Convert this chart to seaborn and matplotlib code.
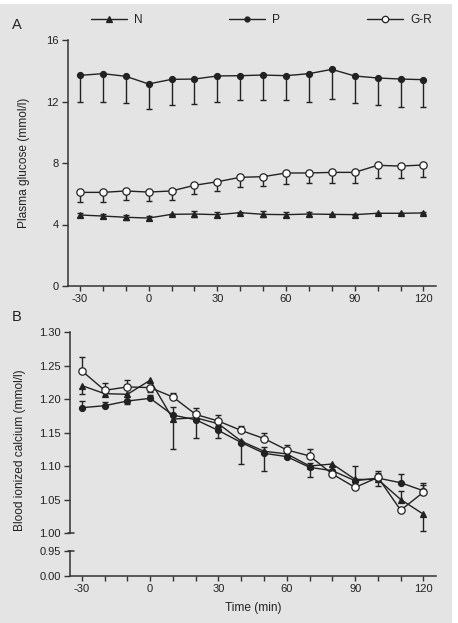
import numpy as np
import matplotlib
matplotlib.use("Agg")
import matplotlib.pyplot as plt
from matplotlib.patches import Rectangle
from matplotlib.lines import Line2D
import seaborn as sns
import pandas as pd

# ---- data ----
time = [-30, -20, -10, 0, 10, 20, 30, 40, 50, 60, 70, 80, 90, 100, 110, 120]

# Panel A: plasma glucose (mmol/l)
glu_N = [4.62, 4.55, 4.47, 4.42, 4.66, 4.68, 4.64, 4.77, 4.66, 4.64, 4.68, 4.66, 4.64, 4.73, 4.73, 4.75]
glu_N_lo = [0.15, 0.12, 0.18, 0.15, 0.05, 0.20, 0.17, 0.05, 0.20, 0.17, 0.13, 0.05, 0.05, 0.05, 0.05, 0.05]
glu_N_hi = [0.15, 0.12, 0.18, 0.15, 0.05, 0.20, 0.17, 0.05, 0.20, 0.17, 0.13, 0.05, 0.05, 0.05, 0.05, 0.05]
glu_P = [13.70, 13.81, 13.64, 13.14, 13.44, 13.46, 13.66, 13.68, 13.72, 13.68, 13.81, 14.09, 13.66, 13.53, 13.46, 13.42]
glu_P_lo = [1.71, 1.84, 1.76, 1.63, 1.67, 1.64, 1.67, 1.60, 1.64, 1.56, 1.82, 1.91, 1.76, 1.78, 1.82, 1.80]
glu_P_hi = [0.0] * 16
glu_GR = [6.09, 6.09, 6.18, 6.11, 6.18, 6.55, 6.78, 7.07, 7.11, 7.35, 7.35, 7.39, 7.39, 7.85, 7.80, 7.87]
glu_GR_lo = [0.61, 0.61, 0.61, 0.56, 0.59, 0.55, 0.58, 0.61, 0.61, 0.72, 0.67, 0.67, 0.67, 0.83, 0.78, 0.78]
glu_GR_hi = [0.0] * 16

# Panel B: blood ionized calcium (mmol/l)
ca_N = [1.220, 1.208, 1.207, 1.228, 1.170, 1.172, 1.163, 1.137, 1.122, 1.118, 1.100, 1.103, 1.080, 1.080, 1.050, 1.028]
ca_N_lo = [0.012, 0, 0, 0, 0.045, 0, 0, 0.034, 0, 0, 0, 0, 0, 0, 0, 0.025]
ca_N_hi = [0, 0, 0, 0, 0, 0, 0, 0, 0.006, 0, 0, 0, 0.020, 0.010, 0.013, 0]
ca_P = [1.187, 1.190, 1.197, 1.201, 1.176, 1.169, 1.153, 1.135, 1.119, 1.114, 1.098, 1.093, 1.078, 1.082, 1.075, 1.063]
ca_P_lo = [0, 0, 0.005, 0, 0, 0.027, 0.011, 0, 0.026, 0, 0.014, 0, 0, 0.012, 0, 0]
ca_P_hi = [0.010, 0.006, 0, 0.005, 0.012, 0, 0, 0, 0, 0, 0.007, 0, 0, 0, 0.013, 0.008]
ca_GR = [1.242, 1.213, 1.218, 1.217, 1.203, 1.177, 1.167, 1.153, 1.141, 1.124, 1.115, 1.088, 1.068, 1.083, 1.034, 1.061]
ca_GR_lo = [0, 0, 0, 0.006, 0, 0, 0, 0, 0, 0, 0, 0, 0, 0, 0, 0]
ca_GR_hi = [0.020, 0.011, 0.010, 0, 0.006, 0.009, 0.009, 0.006, 0.009, 0.008, 0.010, 0, 0, 0.009, 0, 0.013]

group_names = ["N", "P", "G-R"]
xticks = [-30, 0, 30, 60, 90, 120]

# ---- style ----
sns.set_theme(style="ticks")
plt.rcParams['font.family'] = ['Liberation Sans', 'DejaVu Sans']
BG = "#e4e4e4"
INK = "#222222"
SP = "#333333"
FS = 8
LFS = 8.6

fig = plt.figure(figsize=(4.58, 6.23), dpi=100)
fig.patch.set_facecolor("white")
fig.patches.append(Rectangle((0, 0), 452 / 458, 1 - 4 / 623, transform=fig.transFigure,
                             facecolor=BG, edgecolor="none", zorder=-10))

W, H = 458, 623
def rect(l, t, r, b):
    return [l / W, 1 - b / H, (r - l) / W, (b - t) / H]

axA = fig.add_axes(rect(68, 40, 436, 286))
axB = fig.add_axes(rect(70, 332, 436, 533))
axB2 = fig.add_axes(rect(70, 551, 436, 576))
for ax in (axA, axB, axB2):
    ax.set_facecolor("none")

styles = {
    "N": dict(marker="^", ms=4.6, mfc=INK),
    "P": dict(marker="o", ms=4.3, mfc=INK),
    "G-R": dict(marker="o", ms=5.3, mfc="white"),
}

def draw(ax, name, y, lo, hi):
    y = np.asarray(y, float); lo = np.asarray(lo, float); hi = np.asarray(hi, float)
    x = np.asarray(time, float)
    ax.vlines(x, y - lo, y + hi, color=INK, lw=1.0, zorder=2)
    m = lo > 0
    ax.plot(x[m], (y - lo)[m], ls="none", marker="_", ms=5, mew=1.0, color=INK, zorder=2)
    m = hi > 0
    ax.plot(x[m], (y + hi)[m], ls="none", marker="_", ms=5, mew=1.0, color=INK, zorder=2)
    df = pd.DataFrame({"t": x, "v": y})
    st = styles[name]
    sns.lineplot(data=df, x="t", y="v", ax=ax, color=INK, lw=1.0, marker=st["marker"],
                 markersize=st["ms"], markerfacecolor=st["mfc"], markeredgecolor=INK,
                 markeredgewidth=0.9, zorder=3, legend=False)

draw(axA, "P", glu_P, glu_P_lo, glu_P_hi)
draw(axA, "G-R", glu_GR, glu_GR_lo, glu_GR_hi)
draw(axA, "N", glu_N, glu_N_lo, glu_N_hi)

draw(axB, "P", ca_P, ca_P_lo, ca_P_hi)
draw(axB, "N", ca_N, ca_N_lo, ca_N_hi)
draw(axB, "G-R", ca_GR, ca_GR_lo, ca_GR_hi)

def style_axis(ax):
    for s in ("top", "right"):
        ax.spines[s].set_visible(False)
    for s in ("left", "bottom"):
        ax.spines[s].set_color(SP)
        ax.spines[s].set_linewidth(1.1)
    ax.tick_params(axis="both", which="both", direction="out", colors=SP, labelcolor=INK,
                   labelsize=FS, width=1.0, pad=2)
    ax.tick_params(axis="y", length=4.5)
    ax.tick_params(axis="x", which="both", length=3.5)
    ax.set_xlabel(""); ax.set_ylabel("")

xlim = (-35.2, 125.5)
# Panel A
style_axis(axA)
axA.set_xlim(*xlim)
axA.set_ylim(0, 16)
axA.set_yticks([0, 4, 8, 12, 16])
axA.set_xticks(xticks)
axA.set_xticks(time, minor=True)
axA.set_xticklabels([str(v) for v in xticks])

# Panel B upper
style_axis(axB)
axB.spines["bottom"].set_visible(False)
axB.set_xlim(*xlim)
axB.set_ylim(1.00, 1.30)
yt = [1.00, 1.05, 1.10, 1.15, 1.20, 1.25, 1.30]
axB.set_yticks(yt)
axB.set_yticklabels([f"{v:.2f}" for v in yt])
axB.tick_params(axis="x", which="both", bottom=False, labelbottom=False)

# Panel B lower
style_axis(axB2)
axB2.set_xlim(*xlim)
axB2.set_ylim(0.0, 0.95)
axB2.set_yticks([0.0, 0.95])
axB2.set_yticklabels(["0.00", "0.95"])
axB2.set_xticks(xticks)
axB2.set_xticks(time, minor=True)
axB2.set_xticklabels([str(v) for v in xticks])
axB2.set_xlabel("Time (min)", fontsize=LFS, color=INK, labelpad=6)

# break marks across spine
for ax, yv in ((axB, 1.00), (axB2, 0.95)):
    ax.plot([-0.005, 0.012], [yv, yv], transform=ax.get_yaxis_transform(), color=SP,
            lw=1.1, clip_on=False, zorder=5)

# y labels
fig.text(24 / W, 1 - 163 / H, "Plasma glucose (mmol/l)", rotation=90, ha="center",
         va="center", fontsize=LFS, color=INK)
fig.text(20 / W, 1 - 450 / H, "Blood ionized calcium (mmol/l)", rotation=90, ha="center",
         va="center", fontsize=LFS, color=INK)

# panel letters
fig.text(12 / W, 1 - 25 / H, "A", fontsize=10.5, color=INK, ha="left", va="center")
fig.text(12 / W, 1 - 317 / H, "B", fontsize=10.5, color=INK, ha="left", va="center")

# legend: one entry per group, spread across the top
leg_x = [91, 229, 367]
for name, lx in zip(group_names, leg_x):
    st = styles[name]
    h = Line2D([0], [0], color=INK, lw=1.0, marker=st["marker"],
               markersize=st["ms"] - 0.7, markerfacecolor=st["mfc"],
               markeredgecolor=INK, markeredgewidth=0.9)
    leg = fig.legend([h], [name], loc="center left",
                     bbox_to_anchor=(lx / W, 1 - 20 / H), frameon=False, fontsize=LFS,
                     handlelength=3.0, handletextpad=0.6,
                     borderaxespad=0, borderpad=0)
    for t in leg.get_texts():
        t.set_color(INK)

fig.savefig("out.png", dpi=100, facecolor=fig.get_facecolor())
